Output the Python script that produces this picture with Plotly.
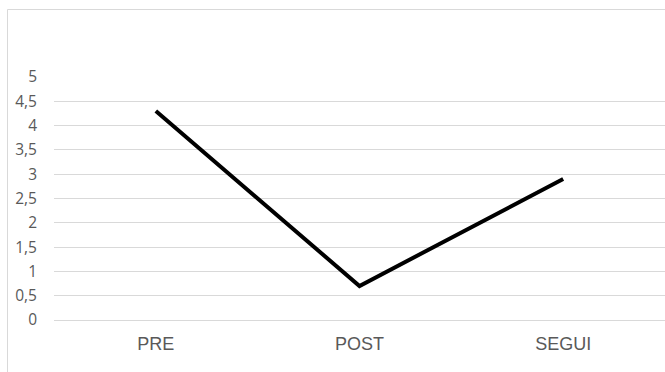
import plotly.graph_objects as go

# Measurement phases and their scores
categories = ["PRE", "POST", "SEGUI"]
scores = [4.3, 0.7, 2.9]

# Value axis ticks (comma decimal notation)
y_ticks = [0, 0.5, 1, 1.5, 2, 2.5, 3, 3.5, 4, 4.5, 5]
y_tick_labels = ["0", "0,5", "1", "1,5", "2", "2,5", "3", "3,5", "4", "4,5", "5"]

grid_color = "#d9d9d9"
label_color = "#595959"
x_font = "Liberation Sans, Arial, sans-serif"
y_font = "Open Sans, Noto Sans, sans-serif"

fig = go.Figure(
    go.Scatter(
        x=categories,
        y=scores,
        mode="lines",
        line=dict(color="black", width=4),
        hoverinfo="x+y",
        showlegend=False,
    )
)

fig.update_layout(
    width=665,
    height=372,
    margin=dict(l=54, r=0, t=77, b=52),
    paper_bgcolor="white",
    plot_bgcolor="white",
    separators=", ",
    font=dict(family=y_font, size=15, color=label_color),
    xaxis=dict(
        type="category",
        range=[-0.5, 2.5],
        showgrid=False,
        showline=False,
        zeroline=False,
        ticks="",
        ticklabelstandoff=11,
        tickfont=dict(family=x_font, size=18, color=label_color),
        fixedrange=True,
    ),
    yaxis=dict(
        range=[0, 5],
        tickvals=y_ticks,
        ticktext=y_tick_labels,
        showgrid=True,
        gridcolor=grid_color,
        gridwidth=1,
        zeroline=True,
        zerolinecolor=grid_color,
        zerolinewidth=1,
        showline=False,
        ticks="",
        ticklabelstandoff=16,
        tickfont=dict(family=y_font, size=15.5, color=label_color),
        fixedrange=True,
    ),
    shapes=[
        # Outer chart frame, partially running off the canvas
        dict(
            type="rect",
            xref="paper",
            yref="paper",
            x0=(7.5 - 54) / 611,
            x1=1.2,
            y0=-0.6,
            y1=(320 - 9.5) / 243,
            line=dict(color=grid_color, width=1),
            fillcolor="rgba(0,0,0,0)",
            layer="below",
        )
    ],
)

fig.write_html("out.html")
